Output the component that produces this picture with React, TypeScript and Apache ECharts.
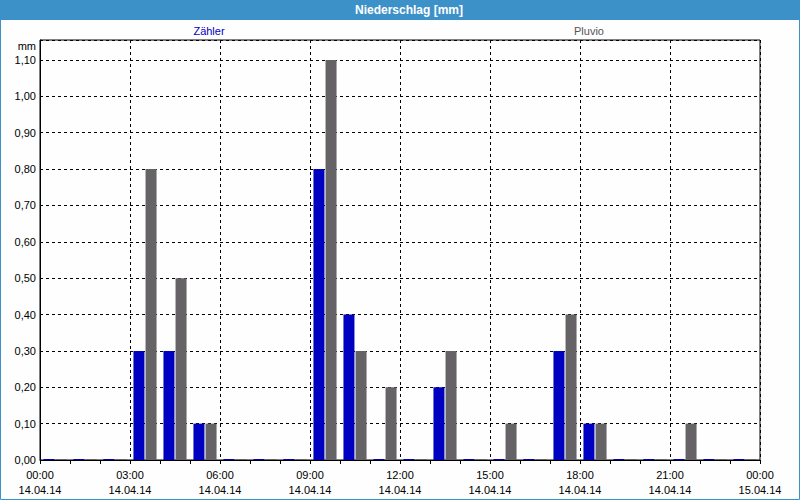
import React, { useEffect, useRef } from "react";
import * as echarts from "echarts";

const hours: string[] = [
  "00", "01", "02", "03", "04", "05", "06", "07", "08", "09", "10", "11",
  "12", "13", "14", "15", "16", "17", "18", "19", "20", "21", "22", "23",
];
const zaehler: number[] = [
  0, 0, 0, 0.3, 0.3, 0.1, 0, 0, 0, 0.8, 0.4, 0,
  0, 0.2, 0, 0, 0, 0.3, 0.1, 0, 0, 0, 0, 0,
];
const pluvio: number[] = [
  0, 0, 0, 0.8, 0.5, 0.1, 0, 0, 0, 1.1, 0.3, 0.2,
  0, 0.3, 0, 0.1, 0, 0.4, 0.1, 0, 0, 0.1, 0, 0,
];
const xTickTimes: string[] = ["00:00", "03:00", "06:00", "09:00", "12:00", "15:00", "18:00", "21:00", "00:00"];
const xTickDates: string[] = ["14.04.14", "14.04.14", "14.04.14", "14.04.14", "14.04.14", "14.04.14", "14.04.14", "14.04.14", "15.04.14"];
const seriesNames: string[] = ["Zähler", "Pluvio"];
const chartTitle = "Niederschlag [mm]";
const yUnit = "mm";

const BLUE = "#0000C0";
const GRAY = "#656365";
const FONT = "Liberation Sans";

export default function App() {
  const ref = useRef<HTMLDivElement>(null);
  useEffect(() => {
    if (!ref.current) return;
    const chart = echarts.init(ref.current, null, { renderer: "svg" });
    chart.setOption({
      animation: false,
      backgroundColor: "#FDFEFD",
      textStyle: { fontFamily: FONT },
      grid: {
        left: 40,
        right: 40,
        top: 40,
        bottom: 40,
        show: true,
        borderColor: "#000",
        borderWidth: 1,
        backgroundColor: "transparent",
      },
      graphic: [
        {
          type: "rect",
          shape: { x: 0, y: 0, width: 800, height: 20 },
          style: { fill: "#3C91C8" },
          silent: true,
        },
        {
          type: "rect",
          shape: { x: 0.5, y: 0.5, width: 799, height: 499 },
          style: { fill: "none", stroke: "#3C91C8", lineWidth: 1 },
          silent: true,
        },
        {
          type: "text",
          x: 409,
          y: 10,
          style: {
            text: chartTitle,
            fill: "#FFFFFF",
            font: `bold 12px ${FONT}`,
            textAlign: "center",
            textVerticalAlign: "middle",
          },
        },
        {
          type: "text",
          x: 209,
          y: 31,
          style: {
            text: seriesNames[0],
            fill: BLUE,
            font: `11px ${FONT}`,
            textAlign: "center",
            textVerticalAlign: "middle",
          },
        },
        {
          type: "text",
          x: 589,
          y: 31,
          style: {
            text: seriesNames[1],
            fill: "#555555",
            font: `11px ${FONT}`,
            textAlign: "center",
            textVerticalAlign: "middle",
          },
        },
        {
          type: "text",
          x: 36,
          y: 46,
          style: {
            text: yUnit,
            fill: "#000",
            font: `11px ${FONT}`,
            textAlign: "right",
            textVerticalAlign: "middle",
          },
        },
      ],
      xAxis: [
        {
          type: "value",
          position: "bottom",
          min: 0,
          max: 24,
          interval: 3,
          axisLine: { show: true, lineStyle: { color: "#000", width: 1 } },
          axisTick: { show: true, length: 4, lineStyle: { color: "#000" } },
          minorTick: { show: true, splitNumber: 3, length: 4, lineStyle: { color: "#000" } },
          splitLine: { show: true, lineStyle: { color: "#000", type: [3, 3], width: 1 } },
          axisLabel: {
            color: "#000",
            fontSize: 11,
            fontFamily: FONT,
            lineHeight: 15,
            margin: 7,
            formatter: (v: number) => {
              const i = Math.round(v / 3);
              return `${xTickTimes[i]}\n${xTickDates[i]}`;
            },
          },
        },
        {
          type: "category",
          position: "top",
          data: hours,
          boundaryGap: true,
          show: false,
        },
      ],
      yAxis: {
        type: "value",
        min: 0,
        max: 1.155,
        interval: 0.1,
        axisLine: { show: true, lineStyle: { color: "#000", width: 1 } },
        axisTick: { show: false },
        splitLine: { show: true, lineStyle: { color: "#000", type: [3, 3], width: 1 } },
        axisLabel: {
          color: "#000",
          fontSize: 11,
          fontFamily: FONT,
          margin: 4,
          showMaxLabel: false,
          formatter: (v: number) => v.toFixed(2).replace(".", ","),
        },
      },
      series: [
        {
          name: seriesNames[0],
          type: "bar",
          xAxisIndex: 1,
          data: zaehler,
          barWidth: 11,
          barGap: "10%",
          barMinHeight: 1,
          itemStyle: { color: BLUE },
        },
        {
          name: seriesNames[1],
          type: "bar",
          xAxisIndex: 1,
          data: pluvio,
          barWidth: 11,
          barGap: "10%",
          barMinHeight: 1,
          itemStyle: { color: GRAY },
        },
      ],
    });
    return () => chart.dispose();
  }, []);
  return (
    <div
      ref={ref}
      style={{ position: "absolute", left: 0, top: 0, width: 800, height: 500 }}
    />
  );
}
